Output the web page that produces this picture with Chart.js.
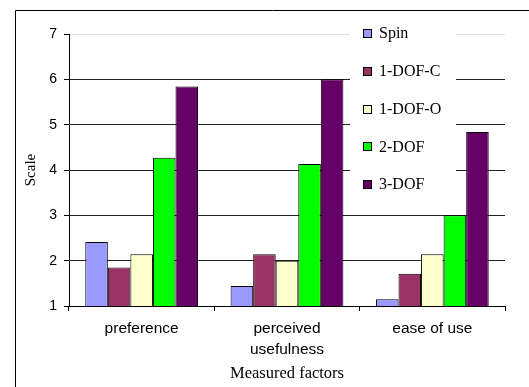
<!DOCTYPE html>
<html>
<head>
  <meta charset="UTF-8">
  <script src="https://cdn.jsdelivr.net/npm/chart.js"></script>
  <style>
    body { margin: 0; background: #fff; }
    #wrap { width: 529px; height: 387px; }
  </style>
</head>
<body>
  <div id="wrap"><canvas id="myChart" width="529" height="387"></canvas></div>
  <script>
    let factors = ['preference', ['perceived', 'usefulness'], 'ease of use'];
    let seriesNames = ['Spin', '1-DOF-C', '1-DOF-O', '2-DOF', '3-DOF'];
    let seriesColors = ['#9999ff', '#993366', '#ffffcc', '#00ff00', '#660066'];
    let spin = [2.41, 1.44, 1.15];
    let dof1c = [1.85, 2.14, 1.71];
    let dof1o = [2.14, 2.0, 2.14];
    let dof2 = [4.27, 4.13, 3.0];
    let dof3 = [5.84, 6.0, 4.84];
    let allValues = [spin, dof1c, dof1o, dof2, dof3];

    // frame + legend drawn by hand (excel style)
    let excelBits = {
      id: 'excelBits',
      afterDraw: function(chart) {
        let ctx = chart.ctx;
        ctx.save();
        ctx.strokeStyle = '#000';
        ctx.lineWidth = 1;
        ctx.beginPath();
        ctx.moveTo(15.5, 400);
        ctx.lineTo(15.5, 10.5);
        ctx.lineTo(540, 10.5);
        ctx.stroke();

        ctx.fillStyle = '#fff';
        ctx.fillRect(350, 22, 106, 178);
        ctx.font = '16px "Liberation Serif", "Times New Roman", serif';
        ctx.textBaseline = 'middle';
        chart.data.datasets.forEach(function(ds, i) {
          let y = 33 + i * 37.8;
          ctx.fillStyle = ds.backgroundColor;
          ctx.fillRect(363.5, Math.round(y) - 3.5, 8, 8);
          ctx.strokeStyle = '#000';
          ctx.strokeRect(363.5, Math.round(y) - 3.5, 8, 8);
          ctx.fillStyle = '#000';
          ctx.fillText(ds.label, 379, y + 1);
        });
        ctx.restore();
      }
    };

    let ctx = document.getElementById('myChart').getContext('2d');
    let chart = new Chart(ctx, {
      type: 'bar',
      data: {
        labels: factors,
        datasets: seriesNames.map(function(name, i) {
          return {
            label: name,
            data: allValues[i],
            backgroundColor: seriesColors[i],
            borderColor: '#000',
            borderWidth: 1,
            categoryPercentage: 0.776,
            barPercentage: 1
          };
        })
      },
      options: {
        responsive: false,
        animation: false,
        layout: { padding: { top: 34, right: 24, left: 0, bottom: 0 } },
        plugins: {
          legend: { display: false },
          tooltip: { enabled: false }
        },
        scales: {
          x: {
            afterFit: function(scale) { scale.height = 81; },
            grid: { offset: true, drawOnChartArea: false, drawTicks: true, tickLength: 5, color: '#000' },
            border: { color: '#000', width: 1 },
            ticks: {
              color: '#000',
              padding: 8,
              font: { family: 'Arial, "Liberation Sans", sans-serif', size: 15.5, lineHeight: 1.3 }
            },
            title: {
              display: true,
              text: 'Measured factors',
              color: '#000',
              padding: { bottom: 3 },
              font: { family: '"Liberation Serif", "Times New Roman", serif', size: 16.5 }
            }
          },
          y: {
            min: 1,
            max: 7,
            afterFit: function(scale) { scale.width = 69; },
            grid: {
              color: function(c) { return c.tick && c.tick.value === 7 ? '#e0e0e0' : '#222'; },
              tickColor: '#000',
              tickLength: 5
            },
            border: { color: '#000', width: 1 },
            ticks: {
              stepSize: 1,
              color: '#000',
              padding: 7,
              font: { family: 'Arial, "Liberation Sans", sans-serif', size: 14 }
            },
            title: {
              display: true,
              text: 'Scale',
              color: '#000',
              padding: { top: 22 },
              font: { family: '"Liberation Serif", "Times New Roman", serif', size: 15 }
            }
          }
        }
      },
      plugins: [excelBits]
    });
  </script>
</body>
</html>
